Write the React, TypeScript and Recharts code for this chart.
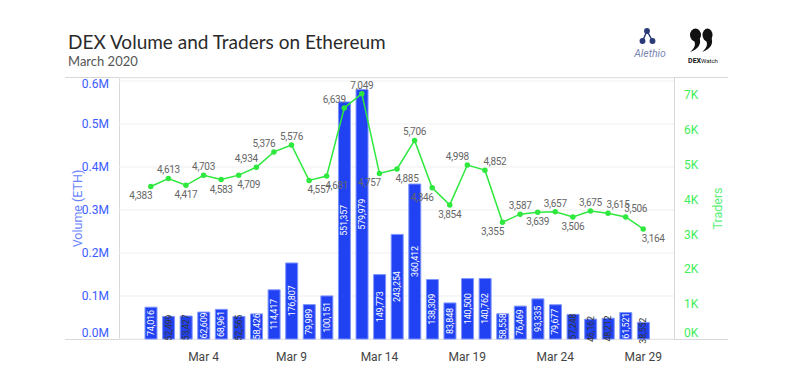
import { ComposedChart, Bar, Line, XAxis, YAxis, CartesianGrid, LabelList } from 'recharts';

const dates = [
  'Mar 1', 'Mar 2', 'Mar 3', 'Mar 4', 'Mar 5', 'Mar 6', 'Mar 7', 'Mar 8', 'Mar 9', 'Mar 10',
  'Mar 11', 'Mar 12', 'Mar 13', 'Mar 14', 'Mar 15', 'Mar 16', 'Mar 17', 'Mar 18', 'Mar 19', 'Mar 20',
  'Mar 21', 'Mar 22', 'Mar 23', 'Mar 24', 'Mar 25', 'Mar 26', 'Mar 27', 'Mar 28', 'Mar 29',
];

const volumeEth = [
  74016, 52499, 53427, 62609, 68961, 52565, 58426, 114417, 176807, 79989,
  100151, 551357, 579979, 149773, 243254, 360412, 138309, 83848, 140500, 140762,
  58558, 76469, 93335, 79677, 57248, 46162, 48212, 61521, 38552,
];

const traders = [
  4383, 4613, 4417, 4703, 4583, 4709, 4934, 5376, 5576, 4557,
  4681, 6639, 7049, 4757, 4885, 5706, 4346, 3854, 4998, 4852,
  3355, 3587, 3639, 3657, 3506, 3675, 3615, 3506, 3164,
];

const xTicks = ['Mar 4', 'Mar 9', 'Mar 14', 'Mar 19', 'Mar 24', 'Mar 29'];
const volumeTicks = [0, 100000, 200000, 300000, 400000, 500000, 600000];
const traderTicks = [0, 1000, 2000, 3000, 4000, 5000, 6000, 7000];

// where each traders label sits relative to its point (t/b = above/below, l/r = nudged sideways)
const traderLabelPlace: Record<string, string> = {
  'Mar 1': 'bl', 'Mar 2': 't', 'Mar 3': 'b', 'Mar 4': 't', 'Mar 5': 'b', 'Mar 6': 'br',
  'Mar 7': 'tl', 'Mar 8': 'tl', 'Mar 9': 't', 'Mar 10': 'br', 'Mar 11': 'br', 'Mar 12': 'tl',
  'Mar 13': 't', 'Mar 14': 'bl', 'Mar 15': 'br', 'Mar 16': 't', 'Mar 17': 'bl', 'Mar 18': 'b',
  'Mar 19': 'tl', 'Mar 20': 'tr', 'Mar 21': 'bl', 'Mar 22': 't', 'Mar 23': 'b', 'Mar 24': 't',
  'Mar 25': 'b', 'Mar 26': 't', 'Mar 27': 'tr', 'Mar 28': 'tr', 'Mar 29': 'br',
};

const BLUE = '#2142f2';
const GREEN = '#2ee83e';
const FONT = 'Roboto, "Open Sans", sans-serif';

const data = dates.map((d, i) => ({ date: d, volume: volumeEth[i], traders: traders[i] }));

const fmt = (v: number) => v.toLocaleString('en-US');

function BarValueLabel(props: any) {
  const vb = props.viewBox || props;
  const { x, y, width, height } = vb;
  const value = props.value as number;
  const cx = x + width / 2;
  const cy = y + height / 2;
  const fits = value >= 58000;
  return (
    <text
      x={cx}
      y={cy}
      transform={`rotate(-90 ${cx} ${cy})`}
      textAnchor="middle"
      dominantBaseline="central"
      fontSize={9}
      letterSpacing={-0.2}
      fontFamily={FONT}
      fill={fits ? '#ffffff' : '#333333'}
    >
      {fmt(value)}
    </text>
  );
}

function TraderLabel(props: any) {
  const { x, y, value, index } = props;
  const place = traderLabelPlace[dates[index]] || 't';
  const below = place[0] === 'b';
  const dx = place[1] === 'l' ? -10 : place[1] === 'r' ? 10 : 0;
  return (
    <text
      x={x + dx}
      y={below ? y + 13 : y - 5}
      textAnchor="middle"
      fontSize={10}
      letterSpacing={-0.3}
      fontFamily={FONT}
      fill="#666"
    >
      {fmt(value)}
    </text>
  );
}

function LeftTick(props: any) {
  const { x, y, payload } = props;
  const shift = payload.value === 0 ? -6 : payload.value === 600000 ? 3 : 0;
  return (
    <text x={x} y={y + shift} textAnchor="end" dominantBaseline="central" fontSize={12} fontFamily={FONT} fill="#3a5bff">
      {(payload.value / 1e6).toFixed(1) + 'M'}
    </text>
  );
}

function RightTick(props: any) {
  const { x, y, payload } = props;
  const shift = payload.value === 0 ? -6 : 0;
  return (
    <text x={x} y={y + shift} textAnchor="start" dominantBaseline="central" fontSize={12} fontFamily={FONT} fill="#3fee5a">
      {payload.value / 1000 + 'K'}
    </text>
  );
}

function Logos() {
  return (
    <svg width={800} height={80} style={{ position: 'absolute', left: 0, top: 0 }}>
      <g stroke="#2b3a78" strokeWidth={1.5} fill="#2b3a78">
        <line x1={647} y1={31} x2={643} y2={40} />
        <line x1={647} y1={31} x2={652} y2={40} />
        <circle cx={647} cy={31} r={2.2} />
        <circle cx={642.5} cy={41} r={2.2} />
        <circle cx={652.5} cy={41} r={2.2} />
      </g>
      <text x={650} y={57} textAnchor="middle" fontSize={10.5} fontStyle="italic" fontFamily={FONT} fill="#7b86b3">
        Alethio
      </text>
      <g fill="#111">
        <ellipse cx={695.5} cy={35} rx={5.5} ry={6.5} />
        <path d="M699 37 C 702 43, 699 49, 690 52 C 696 47, 696 43, 693 39 Z" />
        <ellipse cx={707.5} cy={35} rx={5} ry={6.5} />
        <path d="M711 37 C 714 43, 711 49, 702 52 C 708 47, 708 43, 705 39 Z" />
      </g>
      <text x={703} y={63} textAnchor="middle" fontSize={7} fontFamily={FONT} fill="#111">
        <tspan fontWeight="bold">DEX</tspan>
        <tspan fontSize={6}>Watch</tspan>
      </text>
    </svg>
  );
}

function Frame() {
  const c = '#d8d8d8';
  return (
    <svg width={800} height={375} style={{ position: 'absolute', left: 0, top: 0 }}>
      <line x1={65} y1={77.5} x2={728} y2={77.5} stroke={c} />
      <line x1={65} y1={339.5} x2={728} y2={339.5} stroke={c} />
      <line x1={119.5} y1={77} x2={119.5} y2={340} stroke={c} />
      <line x1={674.5} y1={77} x2={674.5} y2={340} stroke={c} />
    </svg>
  );
}

export default function App() {
  return (
    <div style={{ position: 'absolute', left: 0, top: 0, width: 800, height: 375, background: '#fff', overflow: 'hidden' }}>
      <div style={{ position: 'absolute', left: 68, top: 30, fontFamily: 'Lato, "Open Sans", sans-serif', fontSize: 19, color: '#2a2a2a' }}>
        DEX Volume and Traders on Ethereum
      </div>
      <div style={{ position: 'absolute', left: 68, top: 53, fontFamily: 'Lato, "Open Sans", sans-serif', fontSize: 13, color: '#555' }}>
        March 2020
      </div>
      <Logos />
      <Frame />
      <div style={{ position: 'absolute', left: 0, top: 0 }}>
        <ComposedChart width={800} height={375} data={data} margin={{ top: 78, right: 88, bottom: 6, left: 65 }}>
          <CartesianGrid yAxisId="vol" vertical={false} stroke="#efefef" />
          <XAxis
            dataKey="date"
            ticks={xTicks}
            interval={0}
            axisLine={false}
            tickLine={false}
            tickMargin={7}
            height={30}
            padding={{ left: 23, right: 22 }}
            tick={{ fontSize: 12, fill: '#444', fontFamily: FONT }}
          />
          <YAxis
            yAxisId="vol"
            orientation="left"
            width={54}
            domain={[0, 607000]}
            ticks={volumeTicks}
            axisLine={false}
            tickLine={false}
            tickMargin={4}
            tick={<LeftTick />}
            label={{
              value: 'Volume (ETH)',
              angle: -90,
              position: 'insideLeft',
              offset: 13,
              style: { fontSize: 12.5, fill: '#6a84ff', fontFamily: FONT, textAnchor: 'middle' },
            }}
          />
          <YAxis
            yAxisId="tr"
            orientation="right"
            width={38}
            domain={[0, 7500]}
            ticks={traderTicks}
            axisLine={false}
            tickLine={false}
            tickMargin={4}
            tick={<RightTick />}
            label={{
              value: 'Traders',
              angle: -90,
              position: 'insideRight',
              offset: -6,
              style: { fontSize: 12.5, fill: '#5ef07a', fontFamily: FONT, textAnchor: 'middle' },
            }}
          />
          <Bar yAxisId="vol" dataKey="volume" fill={BLUE} stroke="#7f95ff" strokeWidth={1} barSize={12} isAnimationActive={false}>
            <LabelList dataKey="volume" content={<BarValueLabel />} />
          </Bar>
          <Line
            yAxisId="tr"
            dataKey="traders"
            type="linear"
            stroke={GREEN}
            strokeWidth={1.5}
            dot={{ r: 2, fill: GREEN, stroke: GREEN }}
            isAnimationActive={false}
          >
            <LabelList dataKey="traders" content={<TraderLabel />} />
          </Line>
        </ComposedChart>
      </div>
    </div>
  );
}
